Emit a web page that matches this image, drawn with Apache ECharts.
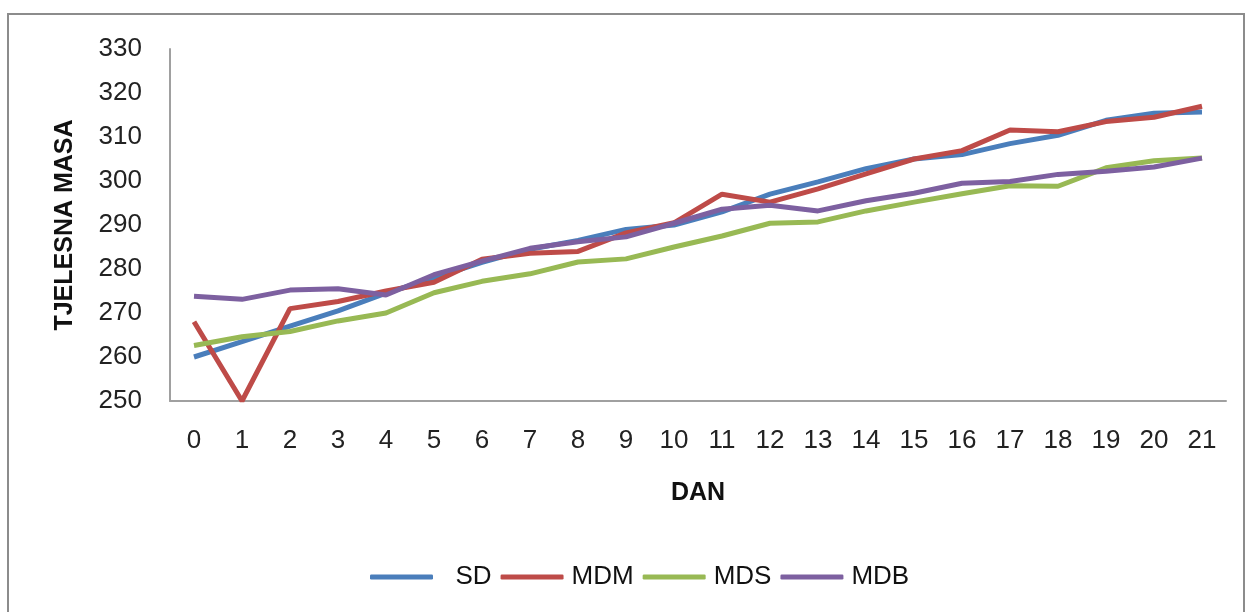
<!DOCTYPE html>
<html>
<head>
<meta charset="utf-8">
<script src="https://cdn.jsdelivr.net/npm/echarts@6/dist/echarts.min.js"></script>
<style>
  html, body { margin: 0; padding: 0; background: #fff; }
  #chart { width: 1248px; height: 612px; }
</style>
</head>
<body>
<div id="chart"></div>
<script>
// days on the x axis
const days = ['0','1','2','3','4','5','6','7','8','9','10','11','12','13','14','15','16','17','18','19','20','21'];

// body mass per group
const sd  = [260, 263.5, 267, 270.5, 274.5, 278, 281.5, 284.5, 286.5, 289, 290, 293, 297, 299.8, 302.8, 305, 306, 308.5, 310.4, 313.8, 315.4, 315.7];
const mdm = [268, 250, 271, 272.6, 275, 277, 282.2, 283.6, 284, 288.2, 290.5, 297, 295.2, 298.2, 301.6, 305, 306.9, 311.6, 311.2, 313.5, 314.5, 317];
const mds = [262.6, 264.6, 265.8, 268.2, 270, 274.6, 277.2, 278.9, 281.6, 282.3, 285, 287.5, 290.4, 290.7, 293.2, 295.2, 297.1, 298.9, 298.8, 303, 304.6, 305.2];
const mdb = [273.8, 273.1, 275.2, 275.5, 274.1, 278.7, 281.8, 284.7, 286.2, 287.3, 290.4, 293.6, 294.5, 293.2, 295.5, 297.2, 299.5, 299.9, 301.5, 302.2, 303.2, 305.2];

const seriesNames = ['SD', 'MDM', 'MDS', 'MDB'];
const colors = ['#4A7EBB', '#BE4B48', '#98B954', '#7D60A0'];

const chart = echarts.init(document.getElementById('chart'));
const font = 'Liberation Sans';

const makeLine = (name, data) => ({
    name: name,
    type: 'line',
    data: data,
    symbol: 'none',
    lineStyle: { width: 5 },
    emphasis: { disabled: true }
});

chart.setOption({
    animation: false,
    color: colors,
    graphic: [{
        type: 'rect',
        shape: { x: 8, y: 14, width: 1236, height: 640 },
        style: { fill: 'none', stroke: '#8c8c8c', lineWidth: 2 },
        silent: true
    }],
    grid: { left: 170, right: 22, top: 49, bottom: 211 },
    legend: {
        data: seriesNames,
        left: 370,
        top: 564,
        padding: 0,
        itemWidth: 63,
        itemHeight: 5,
        itemGap: 9,
        icon: 'roundRect',
        textStyle: { fontFamily: font, fontSize: 26, color: '#111', padding: [0, 0, 0, 3] },
        formatter: n => n === 'SD' ? '  SD' : n
    },
    xAxis: {
        type: 'category',
        data: days,
        boundaryGap: true,
        name: 'DAN',
        nameLocation: 'middle',
        nameGap: 80,
        nameTextStyle: { fontFamily: font, fontSize: 25, fontWeight: 'bold', color: '#111' },
        axisLine: { lineStyle: { color: '#a0a0a0', width: 2 } },
        axisTick: { show: false },
        axisLabel: { fontFamily: font, fontSize: 26, color: '#222', margin: 27, interval: 0 },
        splitLine: { show: false }
    },
    yAxis: {
        type: 'value',
        min: 250,
        max: 330,
        interval: 10,
        name: 'TJELESNA MASA',
        nameLocation: 'middle',
        nameGap: 92,
        nameTextStyle: { fontFamily: font, fontSize: 25, fontWeight: 'bold', color: '#111' },
        axisLine: { show: true, lineStyle: { color: '#a0a0a0', width: 2 } },
        axisTick: { show: false },
        axisLabel: { fontFamily: font, fontSize: 26, color: '#222', margin: 28 },
        splitLine: { show: false }
    },
    series: [
        makeLine('SD', sd),
        makeLine('MDM', mdm),
        makeLine('MDS', mds),
        makeLine('MDB', mdb)
    ]
});
</script>
</body>
</html>
